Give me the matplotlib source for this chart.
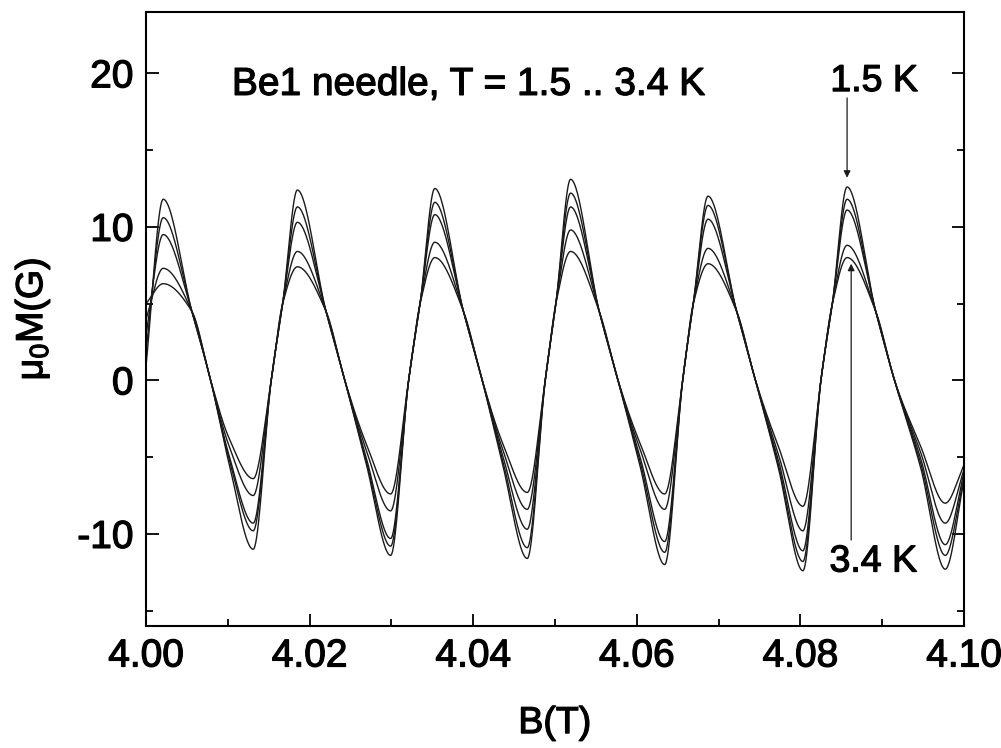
import numpy as np
import matplotlib
matplotlib.use("Agg")
import matplotlib.pyplot as plt
import matplotlib.patheffects as pe

plt.rcParams['font.family'] = ['Liberation Sans', 'DejaVu Sans']
plt.rcParams['mathtext.fontset'] = 'custom'
plt.rcParams['mathtext.rm'] = 'Liberation Sans'
plt.rcParams['mathtext.it'] = 'Liberation Sans'

# ---- data ----
temps = ["1.5 K", "2.0 K", "2.5 K", "3.0 K", "3.4 K"]
peak_B = [4.0021, 4.0185, 4.0353, 4.0519, 4.0687, 4.0857]
trough_B = [4.0131, 4.0299, 4.0466, 4.0634, 4.0803, 4.0977]

peak_vals = [
    [11.8, 12.4, 12.5, 13.1, 12.0, 12.6],   # 1.5 K
    [10.6, 11.3, 11.6, 12.2, 11.4, 11.8],
    [9.5, 10.3, 10.8, 11.3, 10.5, 11.1],
    [7.3, 8.4, 9.0, 9.8, 8.6, 8.8],
    [6.3, 7.4, 8.0, 8.4, 7.6, 8.0],         # 3.4 K
]
trough_vals = [
    [-11.0, -11.4, -11.6, -12.0, -12.4, -12.3],
    [-9.8, -10.8, -10.9, -11.2, -11.8, -11.4],
    [-9.3, -10.3, -9.7, -10.5, -11.1, -10.7],
    [-7.5, -8.5, -8.4, -8.4, -9.8, -9.3],
    [-6.4, -7.4, -7.3, -7.4, -8.2, -8.0],
]
pre_trough_vals = [
    [-5.3, -5.4, -5.5, -5.6, -5.7, -5.7],
    [-5.0, -5.2, -5.2, -5.3, -5.5, -5.4],
    [-4.8, -5.0, -4.9, -5.0, -5.2, -5.1],
    [-4.2, -4.5, -4.5, -4.5, -4.8, -4.7],
    [-3.7, -4.1, -4.1, -4.1, -4.3, -4.3],
]
start_vals = [1.0, 2.0, 3.0, 4.0, 5.0]
end_vals = [-6.5, -6.3, -6.0, -5.8, -5.5]

rise_node_val = 5.0      # common level on the rising edge
fall_node_val = 4.5      # common level on the falling edge (curves converge)
cross_val = 0.0

# knot offsets (T) relative to peaks / troughs
rise_node_dB = -0.0018
fall_node_dB = 0.0035
fall_cross_dB = 0.0058
pre_trough_dB = -0.0030
rise_cross_dB = 0.0022
B_start, B_end = 4.000, 4.100


def pchip(x, y, xn):
    x = np.asarray(x, float); y = np.asarray(y, float)
    h = np.diff(x); d = np.diff(y) / h
    m = np.zeros_like(y)
    for k in range(1, len(y) - 1):
        if d[k - 1] * d[k] <= 0:
            m[k] = 0.0
        else:
            w1 = 2 * h[k] + h[k - 1]; w2 = h[k] + 2 * h[k - 1]
            m[k] = (w1 + w2) / (w1 / d[k - 1] + w2 / d[k])
    m[0] = d[0]; m[-1] = d[-1]
    idx = np.clip(np.searchsorted(x, xn) - 1, 0, len(h) - 1)
    t = (xn - x[idx]) / h[idx]
    h00 = 2 * t**3 - 3 * t**2 + 1
    h10 = t**3 - 2 * t**2 + t
    h01 = -2 * t**3 + 3 * t**2
    h11 = t**3 - t**2
    return (h00 * y[idx] + h10 * h[idx] * m[idx] +
            h01 * y[idx + 1] + h11 * h[idx] * m[idx + 1])


fig = plt.figure(figsize=(10.01, 7.48), dpi=100)
ax = fig.add_axes([0.1459, 0.1631, 0.8172, 0.8209])

Bfine = np.linspace(B_start, B_end, 3000)
for c in range(len(temps)):
    kx = [B_start]; ky = [start_vals[c]]
    for k in range(len(peak_B)):
        if k > 0:
            kx.append(peak_B[k] + rise_node_dB); ky.append(rise_node_val)
        kx.append(peak_B[k]); ky.append(peak_vals[c][k])
        kx.append(peak_B[k] + fall_node_dB); ky.append(fall_node_val)
        kx.append(peak_B[k] + fall_cross_dB); ky.append(cross_val)
        kx.append(trough_B[k] + pre_trough_dB); ky.append(pre_trough_vals[c][k])
        kx.append(trough_B[k]); ky.append(trough_vals[c][k])
        if k < len(peak_B) - 1:
            kx.append(trough_B[k] + rise_cross_dB); ky.append(cross_val)
    kx.append(B_end); ky.append(end_vals[c])
    ax.plot(Bfine, pchip(kx, ky, Bfine), color='#1a1a1a', lw=1.0)

ax.set_xlim(4.00, 4.10)
ax.set_ylim(-16, 24)
ax.set_xticks([4.00, 4.02, 4.04, 4.06, 4.08, 4.10])
ax.set_xticks(np.arange(4.01, 4.10, 0.02), minor=True)
ax.set_xticklabels(["4.00", "4.02", "4.04", "4.06", "4.08", "4.10"])
ax.set_yticks([-10, 0, 10, 20])
ax.set_yticks([-15, -5, 5, 15], minor=True)
ax.set_yticklabels(["-10", "0", "10", "20"])
ax.tick_params(which='both', direction='in', width=1.3, labelsize=28,
               left=True, right=True, bottom=True, top=False)
ax.tick_params(which='major', length=9, pad=9)
ax.tick_params(which='minor', length=5)
for s in ax.spines.values():
    s.set_linewidth(1.5)

bold = [pe.withStroke(linewidth=0.9, foreground='black')]

ax.set_xlabel("B(T)", fontsize=27, labelpad=22)
ax.set_ylabel(r"μ$_0$M(G)", fontsize=27, labelpad=18)

texts = [
    ax.text(4.0105, 18.6, "Be1 needle, T = 1.5 .. 3.4 K", fontsize=28,
            ha='left', va='baseline'),
    ax.text(4.0890, 19.5, "1.5 K", fontsize=27, ha='center', va='center'),
    ax.text(4.0889, -11.8, "3.4 K", fontsize=27, ha='center', va='center'),
]
for t in texts + ax.get_xticklabels() + ax.get_yticklabels() + [ax.xaxis.label, ax.yaxis.label]:
    t.set_path_effects(bold)

ax.annotate("", xy=(4.0857, 13.2), xytext=(4.0857, 18.4),
            arrowprops=dict(arrowstyle='-|>', color='#1a1a1a', lw=0.9,
                            mutation_scale=10, shrinkA=0, shrinkB=0))
ax.annotate("", xy=(4.0862, 7.6), xytext=(4.0862, -10.4),
            arrowprops=dict(arrowstyle='-|>', color='#1a1a1a', lw=0.9,
                            mutation_scale=10, shrinkA=0, shrinkB=0))

fig.savefig("out.png", dpi=100)
